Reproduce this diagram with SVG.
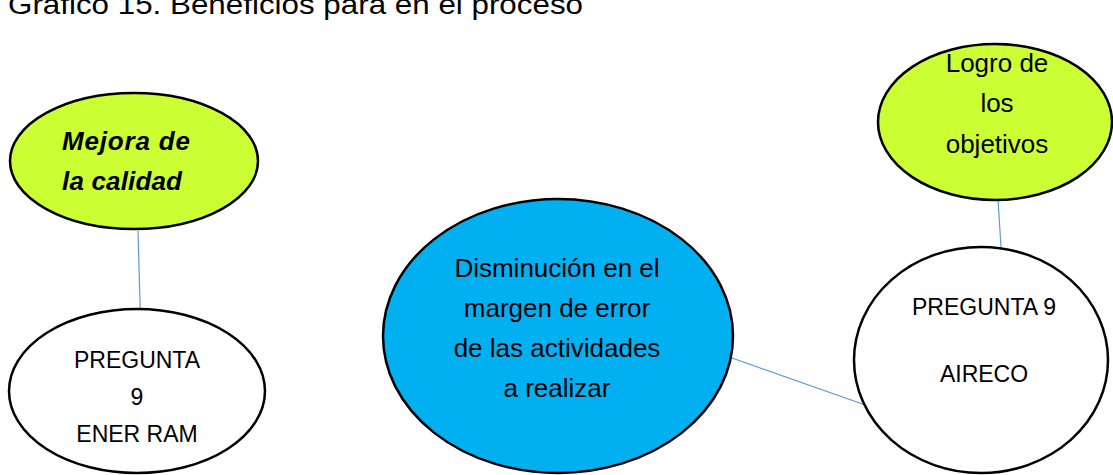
<svg xmlns="http://www.w3.org/2000/svg" width="1113" height="475" viewBox="0 0 1113 475">
<style>
.node{stroke:#000;stroke-width:2.5}
.green{fill:#CCFF33}
.white{fill:#FFFFFF}
.blue{fill:#00B0F0}
.t{font-family:"Liberation Sans",Arial,sans-serif;fill:#000;text-anchor:middle}
.conn{stroke:#5B9BD5;stroke-width:1.2;fill:none}
.title{font-family:"Liberation Sans",Arial,sans-serif;font-size:28px;fill:#000}
</style>
<rect width="1113" height="475" fill="#fff"/>
<text class="title" x="8" y="14" textLength="575" lengthAdjust="spacingAndGlyphs">Grafico 15. Beneficios para en el proceso</text>
<g id="connectors">
<line class="conn" x1="138" y1="231" x2="141" y2="338"/>
<line class="conn" x1="998" y1="200" x2="1001" y2="247"/>
<line class="conn" x1="732" y1="358" x2="871" y2="407"/>
</g>
<g id="mejora">
<ellipse class="node green" cx="134" cy="161" rx="124" ry="68"/>
<text class="t" x="62" y="150" style="text-anchor:start;font-weight:bold;font-style:italic;font-size:26px" textLength="128">Mejora de</text>
<text class="t" x="62" y="190" style="text-anchor:start;font-weight:bold;font-style:italic;font-size:26px" textLength="120">la calidad</text>
</g>
<g id="enerram">
<ellipse class="node white" cx="137" cy="391" rx="128" ry="82"/>
<text class="t" x="137" y="368" font-size="23">PREGUNTA</text>
<text class="t" x="137" y="405" font-size="23">9</text>
<text class="t" x="137" y="442" font-size="23">ENER RAM</text>
</g>
<g id="disminucion">
<ellipse class="node blue" cx="558" cy="336" rx="175" ry="137"/>
<text class="t" x="557" y="277" font-size="26">Disminución en el</text>
<text class="t" x="557" y="317" font-size="26">margen de error</text>
<text class="t" x="557" y="357" font-size="26">de las actividades</text>
<text class="t" x="557" y="397" font-size="26">a realizar</text>
</g>
<g id="logro">
<ellipse class="node green" cx="995" cy="122" rx="117" ry="78"/>
<text class="t" x="997" y="72" font-size="26">Logro de</text>
<text class="t" x="997" y="112" font-size="26">los</text>
<text class="t" x="997" y="153" font-size="26">objetivos</text>
</g>
<g id="aireco">
<ellipse class="node white" cx="981" cy="360" rx="127" ry="113"/>
<text class="t" x="984" y="315" font-size="23">PREGUNTA 9</text>
<text class="t" x="984" y="382" font-size="23">AIRECO</text>
</g>
</svg>
